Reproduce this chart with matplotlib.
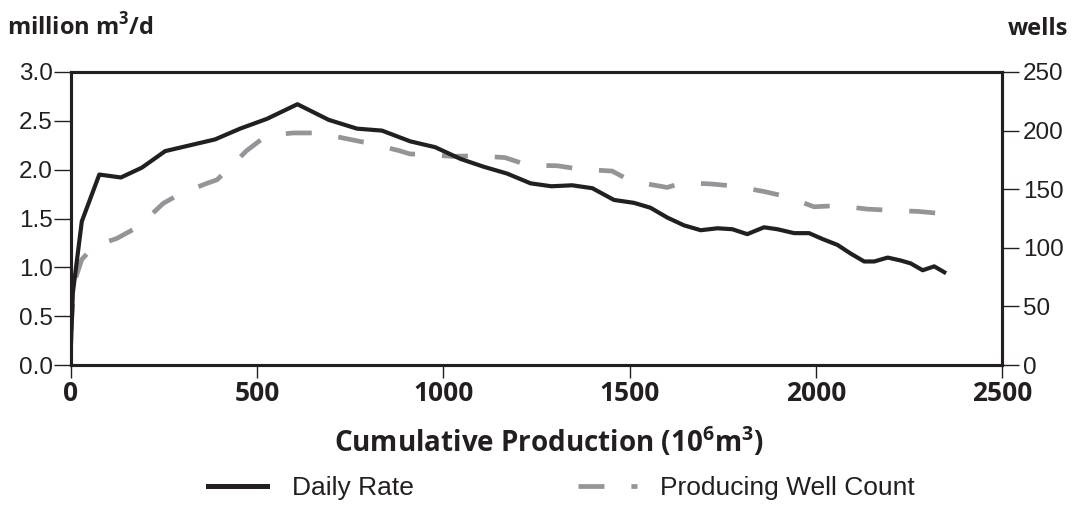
import matplotlib
matplotlib.use("Agg")
import matplotlib.pyplot as plt
from matplotlib.lines import Line2D

plt.rcParams['mathtext.fontset'] = 'custom'
plt.rcParams['mathtext.rm'] = 'Open Sans'
plt.rcParams['mathtext.bf'] = 'Open Sans:bold'

# cumulative production (10^6 m3) vs daily rate (million m3/d)
rate_cum = [0, 5, 29, 76, 134, 190, 253, 320, 387, 454, 526, 608, 692, 768, 835,
            911, 978, 1046, 1108, 1171, 1234, 1290, 1346, 1400, 1458, 1512, 1556,
            1601, 1646, 1691, 1736, 1776, 1816, 1861, 1897, 1942, 1982, 2018, 2058,
            2094, 2130, 2157, 2193, 2228, 2255, 2287, 2318, 2345]
daily_rate = [0.22, 0.74, 1.47, 1.95, 1.92, 2.02, 2.19, 2.25, 2.31, 2.42, 2.52, 2.67,
              2.51, 2.42, 2.40, 2.29, 2.23, 2.11, 2.03, 1.96, 1.86, 1.83, 1.84, 1.81,
              1.69, 1.66, 1.61, 1.51, 1.43, 1.38, 1.40, 1.39, 1.34, 1.41, 1.39, 1.35,
              1.35, 1.29, 1.23, 1.14, 1.06, 1.06, 1.10, 1.07, 1.04, 0.97, 1.01, 0.95]

# cumulative production vs producing well count
well_cum = [0, 8, 29, 60, 123, 181, 248, 293, 365, 392, 418, 472, 526, 598, 665,
            741, 804, 880, 911, 943, 1023, 1086, 1165, 1227, 1306, 1368, 1453, 1503,
            1601, 1642, 1718, 1785, 1861, 1924, 1995, 2058, 2139, 2202, 2277, 2345]
well_count = [30, 70, 90, 101, 108, 118, 138, 146, 155, 158, 166, 183, 196, 198, 198,
              193, 189, 183, 180, 180, 178, 178.5, 177, 170.5, 170, 167, 165.5, 157,
              151.5, 155.5, 154.5, 152.5, 148, 143.5, 135, 136, 133, 132, 131, 129]

x_ticks = [0, 500, 1000, 1500, 2000, 2500]
y_ticks = [0.0, 0.5, 1.0, 1.5, 2.0, 2.5, 3.0]
well_ticks = [0, 50, 100, 150, 200, 250]

dark = '#231f20'
gray = '#939598'
W, H = 1073, 508

fig = plt.figure(figsize=(10.73, 5.08), dpi=100)
ax = fig.add_axes([71 / W, 1 - 365 / H, 931 / W, 293 / H])
ax2 = ax.twinx()

ax.plot(rate_cum, daily_rate, color=dark, lw=3.0, solid_joinstyle='round', zorder=2)
ax2.plot(well_cum, well_count, color=gray, lw=3.4, dashes=(5.5, 5.7),
         dash_capstyle='butt', zorder=3)

ax.set_zorder(ax2.get_zorder() + 1)
ax.patch.set_visible(False)

ax.set_xlim(0, 2500)
ax.set_ylim(0, 3)
ax2.set_ylim(0, 250)
ax.set_xticks(x_ticks)
ax.set_yticks(y_ticks)
ax.set_yticklabels([f'{v:.1f}' for v in y_ticks])
ax2.set_yticks(well_ticks)

for a in (ax, ax2):
    for s in a.spines.values():
        s.set_linewidth(2.2)
        s.set_color(dark)

ax.tick_params(axis='y', length=12, width=1, color=dark, pad=1,
               labelsize=17.5, labelcolor=dark)
ax.tick_params(axis='x', length=9, width=1, color=dark, pad=2,
               labelsize=19, labelcolor=dark)
ax2.tick_params(axis='y', length=12, width=1, color=dark, pad=3,
                labelsize=17.5, labelcolor=dark)
for lab in ax.get_yticklabels() + ax2.get_yticklabels():
    lab.set_family('Liberation Sans')
for lab in ax.get_xticklabels():
    lab.set_family('Open Sans')
    lab.set_fontweight('bold')

fig.text(7 / W, 1 - 35 / H, r'million m$^{\mathbf{3}}$/d', fontsize=17,
         fontweight='bold', family='Open Sans', color=dark, va='baseline', ha='left')
fig.text(1068 / W, 1 - 35 / H, 'wells', fontsize=17,
         fontweight='bold', family='Open Sans', color=dark, va='baseline', ha='right')
fig.text(549 / W, 1 - 452 / H,
         r'Cumulative Production (10$^{\mathbf{6}}$m$^{\mathbf{3}}$)',
         fontsize=20, fontweight='bold', family='Open Sans', color=dark,
         va='baseline', ha='center')

legend_items = [
    (Line2D([0], [0], color=dark, lw=3.6), 'Daily Rate', 208, 0.95),
    (Line2D([0], [0], color=gray, lw=3.4, dashes=(5.5, 5.7), dash_capstyle='butt'),
     'Producing Well Count', 578, 0.87),
]
for handle, label, x0, pad in legend_items:
    leg = fig.legend([handle], [label], loc='center left',
                     bbox_to_anchor=(x0 / W, 1 - 488 / H), frameon=False,
                     borderpad=0, borderaxespad=0, handlelength=2.24,
                     handletextpad=pad,
                     prop={'family': 'Liberation Sans', 'size': 19})
    leg.get_texts()[0].set_color(dark)

fig.savefig('out.png', dpi=100)
